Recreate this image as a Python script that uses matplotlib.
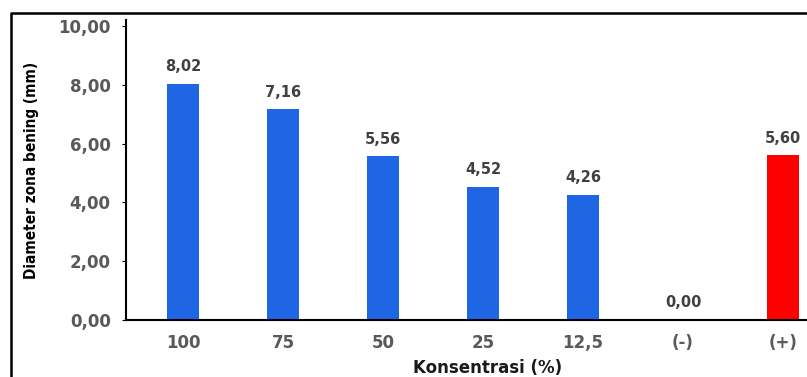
import matplotlib.pyplot as plt
from matplotlib.lines import Line2D

categories = ["100", "75", "50", "25", "12,5", "(-)", "(+)"]
values = [8.02, 7.16, 5.56, 4.52, 4.26, 0.00, 5.60]
colors = ["#1f66e5"] * 6 + ["#ff0000"]
yticks = [0, 2, 4, 6, 8, 10]

W, H = 807, 377
fig = plt.figure(figsize=(W / 100, H / 100), dpi=100)
ax = fig.add_axes([126 / W, 1 - 320 / H, 1 - 126 / W, 300 / H])

x = range(len(categories))
bars = ax.bar(x, values, width=0.32, color=colors)
for b, v in zip(bars, values):
    ax.annotate("{:.2f}".format(v).replace(".", ","),
                (b.get_x() + b.get_width() / 2, v), xytext=(0, 7),
                textcoords="offset points", ha="center", va="bottom",
                fontsize=10.5, fontweight="bold", color="#404040")

ax.set_xlim(-0.57, 6.24)
ax.set_ylim(0, 10.2)
ax.set_yticks(yticks)
ax.set_yticklabels(["{:.2f}".format(t).replace(".", ",") for t in yticks])
ax.set_xticks(list(x))
ax.set_xticklabels(categories)
for lab in ax.get_xticklabels() + ax.get_yticklabels():
    lab.set_fontweight("bold")
    lab.set_fontsize(12)
    lab.set_color("#595959")
ax.tick_params(axis="y", length=3, pad=8)
ax.tick_params(axis="x", length=0, pad=10)
ax.spines["top"].set_visible(False)
ax.spines["right"].set_visible(False)
ax.spines["left"].set_linewidth(1.5)
ax.spines["bottom"].set_linewidth(1.5)

fig.text(488 / W, 1 - 368 / H, "Konsentrasi (%)", ha="center", va="center",
         fontsize=12, fontweight="bold", color="#1a1a1a")
fig.text(32 / W, 1 - 170 / H, "Diameter zona bening (mm)", ha="center",
         va="center", rotation=90, fontsize=11, fontweight="bold",
         fontstretch="condensed", family="DejaVu Sans", color="black")

# outer frame
fig.add_artist(Line2D([11 / W, 11 / W, 1.0], [0.0, 1 - 12.5 / H, 1 - 12.5 / H],
                      transform=fig.transFigure, color="black", lw=1.8))

fig.savefig("out.png", dpi=100)
